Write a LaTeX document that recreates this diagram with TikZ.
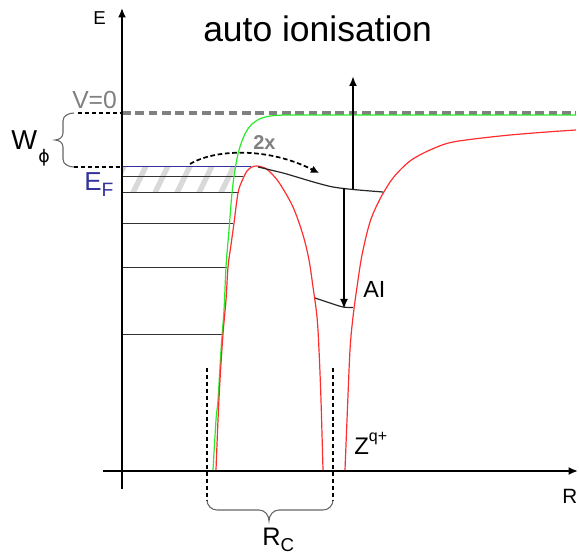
\documentclass[tikz,border=0pt]{standalone}
\usepackage{fontspec}
\setmainfont{Liberation Sans}
\newfontfamily\symfont{DejaVu Sans}
\usetikzlibrary{arrows.meta}
\definecolor{efblue}{RGB}{51,51,153}
\definecolor{vgray}{RGB}{128,128,128}
\definecolor{curvered}{RGB}{255,45,45}
\definecolor{curvegreen}{RGB}{40,235,40}
\begin{document}
\begin{tikzpicture}[x=0.75pt,y=-0.75pt,
  axis/.style={line width=2pt,-{Latex[length=7pt,width=6pt]}},
  bigarrow/.style={line width=1.5pt,-{Latex[length=7.5pt,width=6pt]}},
  levelline/.style={line width=0.8pt,black!80},
  blackdash/.style={line width=1.3pt,dash pattern=on 3pt off 2.2pt},
  brace/.style={line width=0.8pt,black!60},
  lbl/.style={inner sep=0pt,anchor=base west},
  hatchline/.style={line width=4pt,black!15}]
\useasboundingbox (0,0) rectangle (579,556);
% hatched region below Fermi level
\begin{scope}
  \clip (122,167) -- (250,167) -- (244,178) -- (239,193) -- (122,193) -- cycle;
  \foreach \i in {0,...,8} \draw[hatchline] (105+\i*22,205) -- ++(22,-45);
\end{scope}
% occupied levels
\draw[levelline] (122,176.7) -- (243,176.7);
\draw[levelline] (122,192.7) -- (239,192.7);
\draw[levelline] (122,223.3) -- (233,223.3);
\draw[levelline] (122,267.3) -- (227,267.3);
\draw[levelline] (122,334.3) -- (222,334.3);
\draw[line width=1pt,efblue] (122,166.8) -- (251,166.8);
% vacuum level
\draw[line width=3pt,vgray,dash pattern=on 6.5pt off 3.5pt] (122,113) -- (576,113);
\draw[blackdash] (78,113) -- (121,113);
\draw[blackdash] (74,167) -- (121,167);
% green surface potential
\draw[curvegreen,line width=0.9pt] plot[smooth,tension=0.6] coordinates {(213,470) (216,420) (218,400) (221,350) (224,310) (226,267) (229,230) (232,193) (235,170) (239,150) (245,134) (252,124) (262,118) (275,115.5) (290,115)} -- (576,115);
% red combined potential
\draw[curvered,line width=0.9pt] plot[smooth,tension=0.55] coordinates {(216,470) (218,420) (220,380) (223,334) (226,300) (228,267) (231,245) (234,223) (238,193) (242,181) (247,171) (252,167) (257,166) (265,168) (272,174) (280,184) (293,207) (303,235) (309,260) (313,287) (317,317) (319,350) (321,400) (323,470)};
\draw[curvered,line width=0.9pt] plot[smooth,tension=0.5] coordinates {(345,470) (347,420) (350,350) (353,317) (357,287) (362,255) (370,222) (380,199) (393,178) (410,161) (430,150) (453,142) (500,136) (540,132.5) (576,130)};
% shifted levels
\draw[line width=0.9pt,black!85] plot[smooth] coordinates {(258,167) (283,173) (300,178) (317,183) (333,187) (353,189.5) (383,192)};
\draw[line width=0.9pt,black!85] plot[smooth] coordinates {(315,298) (330,303) (343,307) (353,307.5)};
% arrows
\coordinate (upfrom) at (353,189);
\coordinate (upto) at (353,76);
\draw[bigarrow] (upfrom) -- (upto);
\coordinate (downfrom) at (344,188);
\coordinate (downto) at (344,309);
\draw[bigarrow] (downfrom) -- (downto);
\coordinate (hopfrom) at (190,164);
\coordinate (hopto) at (319,173);
\draw[line width=1.3pt,dash pattern=on 3.5pt off 2pt,-{Latex[length=6pt,width=6pt]}] (hopfrom) .. controls (215,149) and (268,147) .. (hopto);
% axes
\coordinate (yb) at (122,489);
\coordinate (yt) at (122,8);
\draw[axis] (yb) -- (yt);
\coordinate (xl) at (103,471);
\coordinate (xr) at (578,471);
\draw[axis] (xl) -- (xr);
% braces
\draw[brace] (74,113) to[out=180,in=90] (63,121) -- (63,133) to[out=-90,in=0] (55,140) to[out=0,in=90] (63,147) -- (63,159) to[out=-90,in=180] (74,167);
\draw[blackdash] (207,368) -- (207,500);
\draw[blackdash] (333,368) -- (333,500);
\draw[brace] (207,500) to[out=-90,in=180] (217,510) -- (259,510) to[out=0,in=90] (269,521) to[out=90,in=180] (279,510) -- (323,510) to[out=0,in=-90] (333,500);
% labels
\node[lbl,font=\fontsize{26.6}{30}\selectfont] (title) at (203,42) {auto ionisation};
\node[lbl,font=\fontsize{14}{16}\selectfont] (elabel) at (93,25) {E};
\node[lbl,font=\fontsize{15.5}{18}\selectfont] (rlabel) at (562,503) {R};
\node[lbl,font=\fontsize{18.5}{22}\selectfont,text=vgray] (vzero) at (72,109) {V=0};
\node[lbl,font=\fontsize{20.5}{24}\selectfont] (wlabel) at (11,150) {W};
\node[lbl,font=\symfont\fontsize{13}{16}\selectfont] (philabel) at (38,163) {ϕ};
\node[lbl,font=\fontsize{19.5}{22}\selectfont,text=efblue] (eflabel) at (84,191) {E\raisebox{-0.4ex}{\fontsize{14.5}{16}\selectfont F}};
\node[lbl,font=\fontsize{15}{18}\selectfont\bfseries,text=vgray] (twox) at (253,150) {2x};
\node[lbl,font=\fontsize{17.5}{20}\selectfont] (ailabel) at (363,298) {AI};
\node[lbl,font=\fontsize{18}{21}\selectfont] (zlabel) at (354,454) {Z\raisebox{1.0ex}{\fontsize{12}{14}\selectfont q+}};
\node[lbl,font=\fontsize{19}{22}\selectfont] (rclabel) at (262,545) {R\raisebox{-0.45ex}{\fontsize{14}{16}\selectfont C}};
\end{tikzpicture}
\end{document}
